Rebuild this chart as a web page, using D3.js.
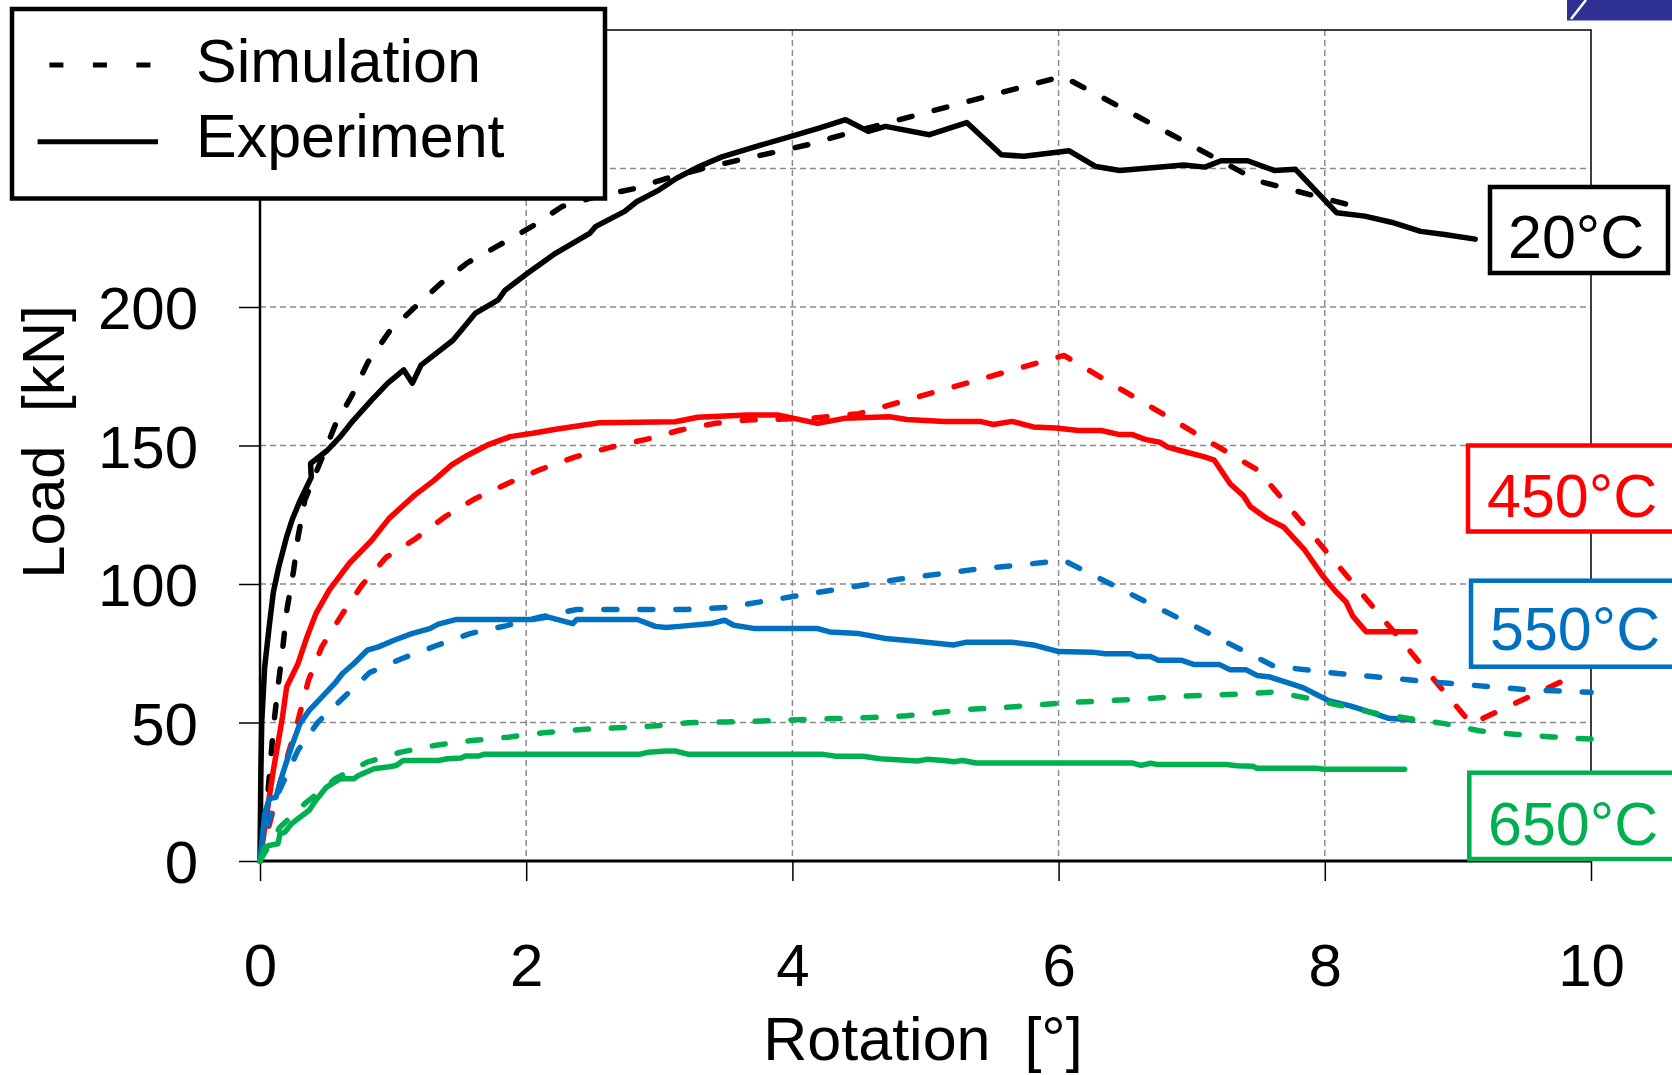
<!DOCTYPE html>
<html>
<head>
<meta charset="utf-8">
<script src="https://d3js.org/d3.v7.min.js"></script>
<style>
  body { margin: 0; background: #fff; }
  text { font-family: "Liberation Sans", Arial, sans-serif; }
</style>
</head>
<body>
<div id="chart"></div>
<script>
// rotation [deg], load [kN]
var exp20 = [[0,0],[0.006,30],[0.013,50],[0.035,70],[0.07,85],[0.1,97],[0.14,106],[0.2,117],[0.24,123],[0.3,130],[0.385,138.5],[0.38,143.5],[0.5,148],[0.6,153],[0.7,159],[0.84,166.5],[0.96,172.5],[1.08,177.3],[1.145,172.5],[1.21,179],[1.45,188],[1.62,197.8],[1.79,202.6],[1.84,206],[2.01,212.2],[2.22,219.4],[2.48,226.7],[2.52,229],[2.74,234.5],[2.83,238],[3.0,242.3],[3.13,246.5],[3.3,250.7],[3.47,254.2],[3.73,258],[3.99,261.6],[4.2,264.6],[4.4,267.6],[4.57,263.4],[4.7,265.2],[5.03,262.2],[5.31,266.6],[5.57,255],[5.74,254.4],[6.08,256.4],[6.28,250.7],[6.46,249.3],[6.94,251.3],[7.1,250.5],[7.22,252.8],[7.42,252.8],[7.62,249.3],[7.78,249.7],[8.09,234],[8.3,232.8],[8.5,230.6],[8.72,227.3],[8.9,226.2],[9.13,224.5]];
var sim20 = [[0,0],[0.03,10],[0.062,26],[0.1,47.8],[0.135,62.8],[0.169,76],[0.203,91],[0.253,105],[0.286,117],[0.337,130.3],[0.47,146],[0.57,158],[0.69,168],[0.81,180],[0.98,191.7],[1.17,200.2],[1.36,208.6],[1.56,216],[1.8,222.4],[2.05,229.3],[2.27,236.3],[2.53,239.9],[2.81,242.7],[3.04,246.2],[3.32,249.9],[3.6,253.1],[3.86,255.8],[4.12,258.6],[4.38,262.2],[6.03,283.3],[7.5,245.5],[8.25,236]];

var exp450 = [[0,0],[0.035,12],[0.1,32.7],[0.169,52],[0.2,62.8],[0.286,71.3],[0.353,80.9],[0.42,89.3],[0.52,97.8],[0.67,107.4],[0.84,115.8],[0.97,123.7],[1.16,132],[1.31,137.5],[1.44,143],[1.56,146.5],[1.71,150.2],[1.88,153.2],[2.05,154.4],[2.21,155.8],[2.55,158.2],[3.12,158.6],[3.29,160.2],[3.66,161],[3.89,161],[4.19,158],[4.39,159.8],[4.73,160.4],[4.86,159.4],[5.14,158.7],[5.41,158.7],[5.51,157.6],[5.65,158.7],[5.81,156.7],[5.98,156.3],[6.15,155.4],[6.32,155.4],[6.45,154],[6.55,154],[6.65,152.2],[6.76,151.2],[6.82,149.4],[6.92,148.1],[7.09,146],[7.17,144.7],[7.29,136.1],[7.39,131.8],[7.44,128],[7.56,123.8],[7.69,120.6],[7.85,112.2],[7.98,103.2],[8.08,97.4],[8.16,93.5],[8.21,88.4],[8.31,82.8],[8.68,82.8]];
var sim450 = [[0,0],[0.08,15],[0.16,30],[0.22,40],[0.27,47.8],[0.364,65.2],[0.464,77.3],[0.62,89.3],[0.766,99.6],[0.947,109.6],[1.17,116.4],[1.39,124.3],[1.62,130.9],[1.86,136.3],[2.11,141.4],[2.37,145.9],[2.63,149.3],[2.9,152.2],[3.16,155.6],[3.42,158],[3.66,159.2],[4.13,159.8],[4.5,161.5],[6.04,182.5],[7.5,141],[9.1,49.5],[9.9,67.5]];

var exp550 = [[0,0],[0.035,17],[0.07,22.5],[0.12,23],[0.17,31.5],[0.236,41.1],[0.3,49.6],[0.37,54.4],[0.454,58.6],[0.57,64.6],[0.62,67.7],[0.706,71.3],[0.806,76.1],[0.89,77.3],[1.007,79.7],[1.14,82.1],[1.276,83.9],[1.34,85.5],[1.477,87.2],[2.05,87.2],[2.16,88.1],[2.35,85.7],[2.38,87.2],[2.835,87.2],[2.97,84.7],[3.05,84.3],[3.15,84.7],[3.39,85.7],[3.49,86.9],[3.56,85.1],[3.72,83.9],[4.19,83.9],[4.28,82.7],[4.5,82.1],[4.7,80.3],[4.93,79.3],[5.21,78],[5.31,79],[5.65,79],[5.81,78],[6.0,75.6],[6.25,75.4],[6.35,74.8],[6.54,74.8],[6.59,73.8],[6.69,73.8],[6.75,72.5],[6.92,72.5],[7.02,70.9],[7.21,70.9],[7.29,69],[7.41,69],[7.49,67],[7.59,66.4],[7.76,63.8],[7.84,62.5],[7.93,60.3],[8.03,57.9],[8.19,56],[8.36,53.5],[8.48,51.5],[8.66,50.9]];
var sim550 = [[0,0],[0.03,6],[0.062,14],[0.135,24.3],[0.286,40],[0.437,50.2],[0.632,59.2],[0.823,68],[1.068,73.1],[1.316,77.6],[1.578,82.1],[1.846,84.9],[2.107,88.1],[2.38,90.8],[3.2,90.8],[3.5,91.5],[4.26,97.5],[4.8,101.7],[5.34,105.1],[6.04,108.5],[7.62,70.3],[8.1,67.7],[8.7,65.1],[9.5,61.9],[10,60.9]];

var exp650 = [[0,0],[0.035,5],[0.068,5.6],[0.135,6.2],[0.15,9.8],[0.186,10.4],[0.236,13.4],[0.3,15.8],[0.37,18.3],[0.42,21.9],[0.5,26.7],[0.605,29.7],[0.706,29.7],[0.74,30.9],[0.856,33.3],[0.957,33.9],[1.024,34.5],[1.074,36.3],[1.34,36.3],[1.41,36.9],[1.51,37.2],[1.544,37.9],[1.64,37.9],[1.68,38.5],[2.85,38.5],[2.92,39.3],[3.05,39.7],[3.12,39.7],[3.22,38.5],[4.23,38.5],[4.33,37.8],[4.53,37.8],[4.66,36.9],[4.94,36.1],[5.01,36.7],[5.14,36.3],[5.21,35.8],[5.28,36.3],[5.38,35.4],[6.55,35.4],[6.62,34.5],[6.69,35.3],[6.75,34.8],[7.26,34.8],[7.34,34.4],[7.46,34.2],[7.49,33.5],[7.93,33.5],[8.0,33.1],[8.6,33.1]];
var sim650 = [[0,0],[0.06,5],[0.15,12.2],[0.337,20.7],[0.565,29.7],[0.806,35.7],[1.058,39.3],[1.31,41.7],[1.594,43.5],[1.863,44.7],[2.13,46.3],[2.416,47.5],[2.683,48.1],[2.95,48.7],[3.22,49.9],[3.506,50.2],[3.77,50.5],[4.04,51],[4.32,51.4],[4.59,51.8],[4.86,52.4],[5.08,53.5],[5.34,54.8],[5.61,55.5],[5.88,56.5],[6.15,57.4],[6.42,58],[6.69,58.7],[6.955,59.6],[7.22,60],[7.49,60.6],[7.62,61],[7.88,58.7],[8.13,56],[8.36,53.5],[8.63,51.5],[8.9,49.6],[9.16,47],[9.44,45.7],[9.71,44.8],[10,44]];

var temps = ["20°C", "450°C", "550°C", "650°C"];
var colors = ["#000000", "#ff0000", "#0070c0", "#00b050"];
var xTicks = [0, 2, 4, 6, 8, 10];
var yTicks = [0, 50, 100, 150, 200, 250, 300];
var yLabelled = [0, 50, 100, 150, 200];   // 250 and 300 sit under the legend
var legendNames = ["Simulation", "Experiment"];

var series = [
  {temp: temps[0], color: colors[0], sim: sim20, exp: exp20},
  {temp: temps[1], color: colors[1], sim: sim450, exp: exp450},
  {temp: temps[2], color: colors[2], sim: sim550, exp: exp550},
  {temp: temps[3], color: colors[3], sim: sim650, exp: exp650}
];

var width = 1672,
    height = 1075,
    svg = d3.select("#chart").append("svg")
      .attr("width", width)
      .attr("height", height),
    x = d3.scaleLinear().domain([0, 10]).range([260, 1591]),
    y = d3.scaleLinear().domain([0, 300]).range([861, 30]),
    fs = 60;

// grid
svg.append("g").selectAll("line.hg")
  .data(yTicks.filter(function (d) { return d > 0 && d < 300; }))
  .enter().append("line")
  .attr("x1", x(0)).attr("x2", x(10))
  .attr("y1", function (d) { return y(d); })
  .attr("y2", function (d) { return y(d); })
  .attr("stroke", "#8c8c8c").attr("stroke-width", 1.5)
  .attr("stroke-dasharray", "6,4");
svg.append("g").selectAll("line.vg")
  .data(xTicks.filter(function (d) { return d > 0 && d < 10; }))
  .enter().append("line")
  .attr("x1", function (d) { return x(d); })
  .attr("x2", function (d) { return x(d); })
  .attr("y1", y(300)).attr("y2", y(0))
  .attr("stroke", "#8c8c8c").attr("stroke-width", 1.5)
  .attr("stroke-dasharray", "6,4");

// frame top / right
svg.append("path")
  .attr("d", "M" + x(0) + "," + y(300) + "H" + x(10) + "V" + y(0))
  .attr("fill", "none").attr("stroke", "#000").attr("stroke-width", 1.5);

// axes
var yAxis = svg.append("g")
  .attr("transform", "translate(" + x(0) + ",0)")
  .call(d3.axisLeft(y).tickValues(yTicks).tickSize(21).tickPadding(41)
    .tickFormat(function (d) { return yLabelled.indexOf(d) >= 0 ? d : ""; }));
var xAxis = svg.append("g")
  .attr("transform", "translate(0," + y(0) + ")")
  .call(d3.axisBottom(x).tickValues(xTicks).tickSize(20).tickPadding(62).tickFormat(d3.format("d")));

yAxis.select(".domain").attr("stroke-width", 2.5).attr("d", "M0," + y(0) + "V" + y(300));
xAxis.select(".domain").attr("stroke-width", 3).attr("d", "M" + x(0) + ",0H" + x(10));
svg.selectAll(".tick line").attr("stroke-width", 1.5);
svg.selectAll(".tick text")
  .style("font-family", "'Liberation Sans', Arial, sans-serif")
  .style("font-size", fs + "px").attr("fill", "#000");
yAxis.selectAll(".tick text").attr("dy", "0.36em");

// axis titles
svg.append("text")
  .attr("transform", "translate(64,442) rotate(-90)")
  .attr("text-anchor", "middle")
  .style("font-size", fs + "px").style("white-space", "pre")
  .text("Load  [kN]");
svg.append("text")
  .attr("x", 923).attr("y", 1060)
  .attr("text-anchor", "middle")
  .style("font-size", "61px").style("white-space", "pre")
  .text("Rotation  [°]");

// curves
var line = d3.line()
  .x(function (d) { return x(d[0]); })
  .y(function (d) { return y(d[1]); });

var curves = svg.append("g").attr("fill", "none").attr("stroke-linejoin", "round");
series.forEach(function (s) {
  curves.append("path")
    .attr("d", line(s.sim))
    .attr("stroke", s.color).attr("stroke-width", 5.5)
    .attr("stroke-linecap", "round")
    .attr("stroke-dasharray", "13,23");
  curves.append("path")
    .attr("d", line(s.exp))
    .attr("stroke", s.color).attr("stroke-width", 5.5)
    .attr("stroke-linecap", "round");
});

// legend
var lg = svg.append("g");
lg.append("rect")
  .attr("x", 12).attr("y", 9).attr("width", 593).attr("height", 189.5)
  .attr("fill", "#fff").attr("stroke", "#000").attr("stroke-width", 4.5);
lg.append("line")
  .attr("x1", 49.4).attr("x2", 152).attr("y1", 65).attr("y2", 65)
  .attr("stroke", "#000").attr("stroke-width", 5)
  .attr("stroke-dasharray", "14,29.5");
lg.append("line")
  .attr("x1", 37.6).attr("x2", 158).attr("y1", 141.7).attr("y2", 141.7)
  .attr("stroke", "#000").attr("stroke-width", 5);
lg.selectAll("text").data(legendNames).enter().append("text")
  .attr("x", 196)
  .attr("y", function (d, i) { return i ? 156.7 : 81.7; })
  .style("font-size", "61px")
  .text(function (d) { return d; });

// temperature boxes
var boxes = [
  {x: 1490, y: 187, w: 178, h: 86, tx: 1508, ty: 258},
  {x: 1468, y: 445.5, w: 240, h: 86, tx: 1487, ty: 516.7},
  {x: 1471, y: 580.7, w: 240, h: 86, tx: 1490, ty: 650},
  {x: 1469.3, y: 772.7, w: 240, h: 86.3, tx: 1488, ty: 845}
];
var bg = svg.append("g").selectAll("g").data(series).enter().append("g");
bg.append("rect")
  .attr("x", function (d, i) { return boxes[i].x; })
  .attr("y", function (d, i) { return boxes[i].y; })
  .attr("width", function (d, i) { return boxes[i].w; })
  .attr("height", function (d, i) { return boxes[i].h; })
  .attr("fill", "#fff")
  .attr("stroke", function (d) { return d.color; })
  .attr("stroke-width", 4.5);
bg.append("text")
  .attr("x", function (d, i) { return boxes[i].tx; })
  .attr("y", function (d, i) { return boxes[i].ty; })
  .attr("fill", function (d) { return d.color; })
  .style("font-size", "61px")
  .text(function (d) { return d.temp; });

// corner decoration of the slide
svg.append("rect").attr("x", 1567).attr("y", 0).attr("width", 105).attr("height", 20.5).attr("fill", "#2e3192");
svg.append("line").attr("x1", 1571).attr("y1", 19).attr("x2", 1586).attr("y2", 0)
  .attr("stroke", "#fff").attr("stroke-width", 2.5);
</script>
</body>
</html>
